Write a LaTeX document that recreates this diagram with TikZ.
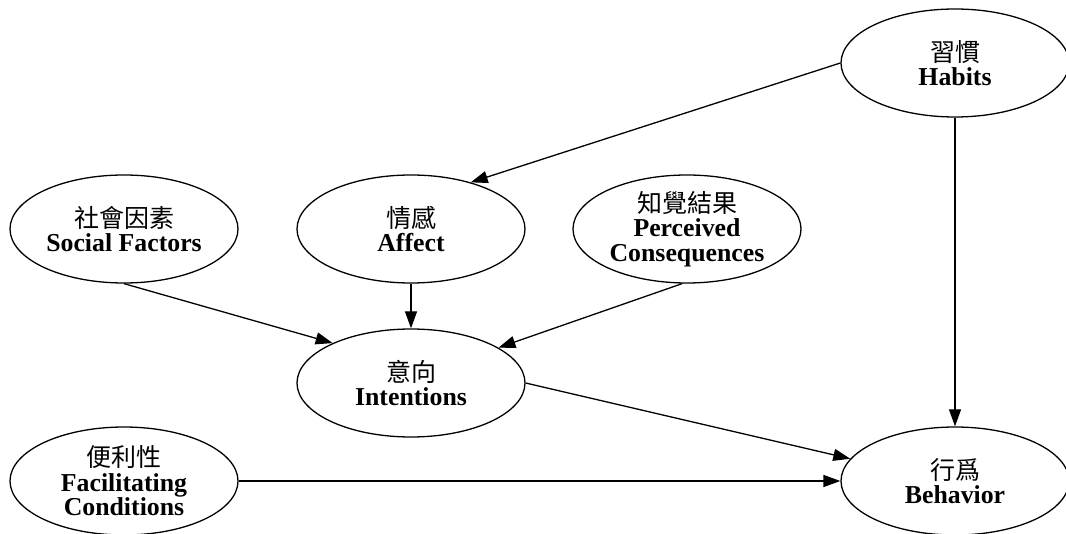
\documentclass[tikz,border=0pt]{standalone}
\usepackage{fontspec}
\setmainfont{Liberation Serif}
\newfontfamily\cjk{Noto Sans CJK TC}
\usetikzlibrary{shapes.geometric,arrows.meta}

% two-language labels: Chinese line on top, bold English below
\newcommand{\zh}[1]{{\cjk\fontsize{25}{24.5}\selectfont #1}}
\newcommand{\en}[1]{\textbf{#1}}

\tikzset{
  construct/.style={ellipse, draw, line width=1.3pt,
    minimum width=228pt, minimum height=108pt, inner sep=0pt,
    align=center, font=\fontsize{25.8}{24.5}\selectfont},
  link/.style={line width=1.3pt, -{Triangle[length=17pt,width=12pt]}},
}

\begin{document}
\begin{tikzpicture}[x=1pt,y=-1pt]
  \useasboundingbox (0,0) rectangle (1066,534);

  % constructs
  \node[construct] (habits)    at (955,63)  {\zh{習慣}\\\en{Habits}};
  \node[construct] (social)    at (124,229) {\zh{社會因素}\\\en{Social Factors}};
  \node[construct] (affect)    at (411,229) {\zh{情感}\\\en{Affect}};
  \node[construct] (percv)     at (687,229) {\zh{知覺結果}\\\en{Perceived}\\\en{Consequences}};
  \node[construct] (intent)    at (411,383) {\zh{意向}\\\en{Intentions}};
  \node[construct] (facil)     at (124,481) {\zh{便利性}\\\en{Facilitating}\\\en{Conditions}};
  \node[construct] (behav)     at (955,481) {\zh{行爲}\\\en{Behavior}};

  % influences
  \draw[link] (habits.west)  -- (affect.38);
  \draw[link] (habits.south) -- (behav.north);
  \draw[link] (social.south) -- (intent.153);
  \draw[link] (affect.south) -- (intent.north);
  \draw[link] (percv.265)    -- (intent.22);
  \draw[link] (intent.east)  -- (behav.168);
  \draw[link] (facil.east)   -- (behav.west);
\end{tikzpicture}
\end{document}
